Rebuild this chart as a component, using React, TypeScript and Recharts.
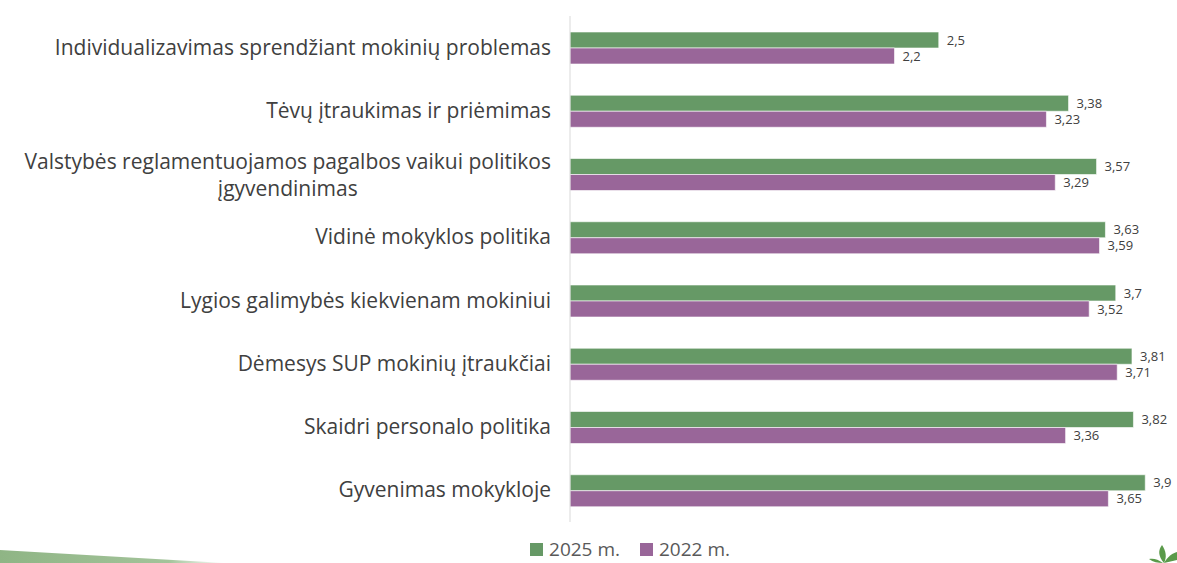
import { BarChart, Bar, XAxis, YAxis, LabelList } from "recharts";

const categories = [
  "Individualizavimas sprendžiant mokinių problemas",
  "Tėvų įtraukimas ir priėmimas",
  "Valstybės reglamentuojamos pagalbos vaikui politikos įgyvendinimas",
  "Vidinė mokyklos politika",
  "Lygios galimybės kiekvienam mokiniui",
  "Dėmesys SUP mokinių įtraukčiai",
  "Skaidri personalo politika",
  "Gyvenimas mokykloje",
];
const values2025 = [2.5, 3.38, 3.57, 3.63, 3.7, 3.81, 3.82, 3.9];
const values2022 = [2.2, 3.23, 3.29, 3.59, 3.52, 3.71, 3.36, 3.65];

const GREEN = "#669966";
const PURPLE = "#996699";
const FONT = "'Open Sans', 'Noto Sans', sans-serif";
const LABEL_SIZE = 21;

const rows = categories.map((name, i) => ({
  name,
  y2025: values2025[i],
  y2022: values2022[i],
}));

const fmt = (v: number) => String(v).replace(".", ",");

let ctx: CanvasRenderingContext2D | null = null;
function textWidth(s: string) {
  if (!ctx) ctx = document.createElement("canvas").getContext("2d");
  if (!ctx) return s.length * LABEL_SIZE * 0.5;
  ctx.font = `${LABEL_SIZE}px 'Open Sans'`;
  return ctx.measureText(s).width;
}

// long names go on two lines, centred on each other, block right-aligned
function CategoryTick({ x, y, payload }: any) {
  const text: string = payload.value;
  const right = x - 11;
  if (text.length <= 55) {
    return (
      <text x={right} y={y} dy={7} textAnchor="end" fontSize={LABEL_SIZE} fill="#404040" fontFamily={FONT}>
        {text}
      </text>
    );
  }
  const cut = text.lastIndexOf(" ", 55);
  const lines = [text.slice(0, cut), text.slice(cut + 1)];
  const cx = right - textWidth(lines[0]) / 2;
  return (
    <text x={cx} y={y} textAnchor="middle" fontSize={LABEL_SIZE} fill="#404040" fontFamily={FONT}>
      <tspan x={cx} dy={-5}>{lines[0]}</tspan>
      <tspan x={cx} dy={27}>{lines[1]}</tspan>
    </text>
  );
}

function LegendBox() {
  const item = (color: string, label: string) => (
    <div style={{ display: "flex", alignItems: "center", gap: 6 }}>
      <div style={{ width: 13, height: 13, background: color }} />
      <span style={{ fontSize: 19, lineHeight: "20px", color: "#595959", fontFamily: FONT }}>{label}</span>
    </div>
  );
  return (
    <div style={{ position: "absolute", left: 430, width: 400, top: 539, height: 20, display: "flex", gap: 20, justifyContent: "center" }}>
      {item(GREEN, "2025 m.")}
      {item(PURPLE, "2022 m.")}
    </div>
  );
}

export default function App() {
  return (
    <div style={{ position: "absolute", left: 0, top: 0, width: 1177, height: 563, background: "#fff", overflow: "hidden" }}>
      <BarChart
        width={1177}
        height={563}
        data={rows}
        layout="vertical"
        margin={{ top: 16, right: 17, bottom: 41, left: 0 }}
        barSize={16}
        barGap={0}
      >
        <XAxis type="number" domain={[0, 4]} hide />
        <YAxis
          type="category"
          dataKey="name"
          width={570}
          axisLine={{ stroke: "#d9d9d9" }}
          tickLine={false}
          tick={<CategoryTick />}
          interval={0}
        />
        <Bar dataKey="y2025" name="2025 m." fill={GREEN} stroke="#fff" strokeWidth={0.6} isAnimationActive={false}>
          <LabelList dataKey="y2025" position="right" offset={8} formatter={fmt} fill="#404040" fontSize={13} fontFamily={FONT} />
        </Bar>
        <Bar dataKey="y2022" name="2022 m." fill={PURPLE} stroke="#fff" strokeWidth={0.6} isAnimationActive={false}>
          <LabelList dataKey="y2022" position="right" offset={8} formatter={fmt} fill="#404040" fontSize={13} fontFamily={FONT} />
        </Bar>
      </BarChart>
      <LegendBox />
      <svg width={1177} height={563} style={{ position: "absolute", left: 0, top: 0, pointerEvents: "none" }}>
        <defs>
          <linearGradient id="stripe" x1="0" x2="1" y1="0" y2="0">
            <stop offset="0%" stopColor="#8fb585" />
            <stop offset="75%" stopColor="#a3c39a" />
            <stop offset="100%" stopColor="#ffffff" />
          </linearGradient>
        </defs>
        <polygon points="0,550 225,563 0,563" fill="url(#stripe)" />
        <g fill="#5a9a4a">
          <path d="M1164,563 C1158,556 1158,550 1162,545 C1166,551 1167,557 1164,563 Z" />
          <path d="M1164,563 C1168,556 1173,553 1177,552 L1177,560 Z" />
          <path d="M1163,563 C1158,559 1153,558 1149,559 C1153,562 1158,563 1163,563 Z" />
        </g>
      </svg>
    </div>
  );
}
